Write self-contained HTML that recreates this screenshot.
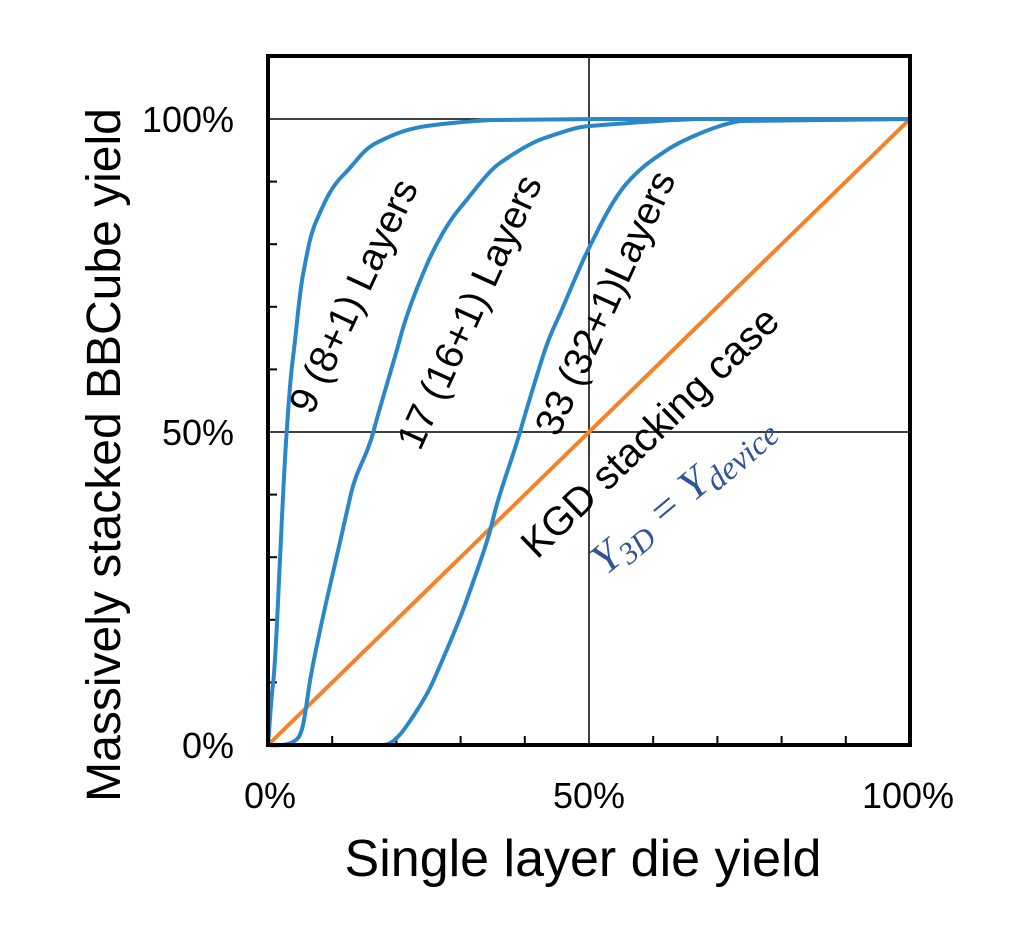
<!DOCTYPE html>
<html><head><style>body{margin:0;background:#fff}svg{display:block}</style></head>
<body>
<svg width="1034" height="928" viewBox="0 0 1034 928" xmlns="http://www.w3.org/2000/svg" font-family="Liberation Sans, sans-serif">
<rect width="1034" height="928" fill="#fff"/>
<g stroke="#000" stroke-width="1.5">
<line x1="268" y1="119" x2="910" y2="119"/>
<line x1="268" y1="432" x2="910" y2="432"/>
<line x1="589" y1="57" x2="589" y2="745"/>
</g>
<g stroke="#000" stroke-width="2">
<line x1="332.2" y1="745" x2="332.2" y2="736"/>
<line x1="396.4" y1="745" x2="396.4" y2="736"/>
<line x1="460.6" y1="745" x2="460.6" y2="736"/>
<line x1="524.8" y1="745" x2="524.8" y2="736"/>
<line x1="653.2" y1="745" x2="653.2" y2="736"/>
<line x1="717.4" y1="745" x2="717.4" y2="736"/>
<line x1="781.6" y1="745" x2="781.6" y2="736"/>
<line x1="845.8" y1="745" x2="845.8" y2="736"/>
<line x1="268" y1="682.4" x2="277" y2="682.4"/>
<line x1="268" y1="619.8" x2="277" y2="619.8"/>
<line x1="268" y1="557.2" x2="277" y2="557.2"/>
<line x1="268" y1="494.6" x2="277" y2="494.6"/>
<line x1="268" y1="369.4" x2="277" y2="369.4"/>
<line x1="268" y1="306.8" x2="277" y2="306.8"/>
<line x1="268" y1="244.2" x2="277" y2="244.2"/>
<line x1="268" y1="181.6" x2="277" y2="181.6"/>
</g>
<line x1="268" y1="745" x2="910" y2="119" stroke="#f5822a" stroke-width="4"/>
<g fill="none" stroke="#2a87c8" stroke-width="4" stroke-linejoin="round" stroke-linecap="round">
<path d="M268,745 C270,720 271,700 273.3,681 S278,600 280,559 S284,470 286.7,431.6 S290,380 293.3,355 S299,295 303.3,273 S310,235 316.7,220 S330,188 343.3,175 S362,150 376.7,142.7 S405,129 426.7,126 S470,121 493,120 L600,119 L910,119"/>
<path d="M268,745 C280,746 292,745 298,738 S306,705 310,681 S320,630 326.7,600 S343,530 350,498 S366,460 373.3,432 S393,365 400,338.6 S418,285 426.7,265 S448,222 460,208 S487,172 500,163 S530,143 543,138.6 S575,127 589,126 S660,120 700,119 L910,119"/>
<path d="M332,745 L383,745 C390,745 395,740 400,734.5 S425,700 433.3,681 S458,625 466.7,600 S487,545 493.3,518 S512,460 520,432 S537,375 543.3,355 S555,325 560,314 S578,270 588,250 S612,200 627,183 S655,158 667,150 S715,125 740,121 L910,119"/>
</g>
<rect x="268" y="56" width="642" height="689" fill="none" stroke="#000" stroke-width="4"/>
<g font-size="36" fill="#000">
<text x="234" y="132" text-anchor="end">100%</text>
<text x="234" y="445" text-anchor="end">50%</text>
<text x="234" y="758" text-anchor="end">0%</text>
<text x="270" y="808" text-anchor="middle">0%</text>
<text x="589" y="808" text-anchor="middle">50%</text>
<text x="908" y="808" text-anchor="middle">100%</text>
</g>
<text x="583" y="876" font-size="52" text-anchor="middle">Single layer die yield</text>
<text transform="translate(120,455) rotate(-90)" font-size="48" text-anchor="middle">Massively stacked BBCube yield</text>
<g font-size="39" fill="#000">
<text transform="translate(312,416) rotate(-65)">9 (8+1) Layers</text>
<text transform="translate(420,452) rotate(-65.5)">17 (16+1) Layers</text>
<text transform="translate(558,438) rotate(-65.5)">33 (32+1)Layers</text>
<text transform="translate(537,560) rotate(-44)" font-size="40">KGD stacking case</text>
</g>
<text transform="translate(606,576) rotate(-40)" font-family="Liberation Serif, serif" font-style="italic" font-size="44" fill="#2f5597">Y<tspan font-size="31" dy="7">3D</tspan><tspan dy="-7"> = Y</tspan><tspan font-size="33" dy="7">device</tspan></text>
</svg>
</body></html>
